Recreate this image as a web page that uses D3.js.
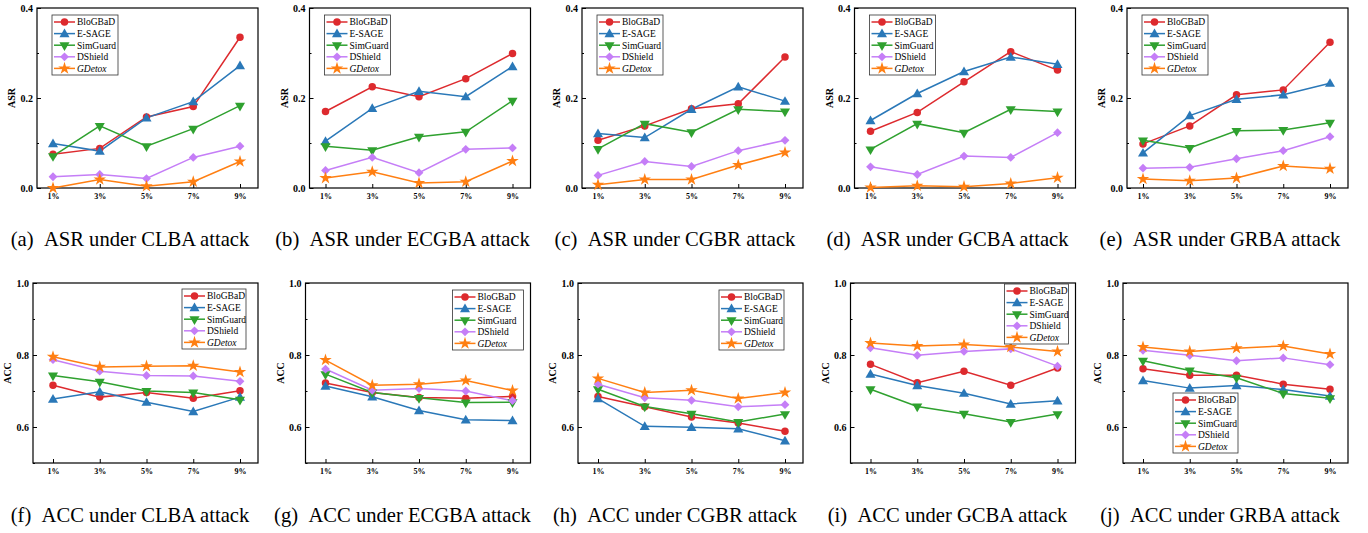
<!DOCTYPE html>
<html>
<head>
<meta charset="utf-8">
<script src="https://cdn.jsdelivr.net/npm/d3@7"></script>
<style>
  body { margin: 0; background: #fff; }
  .tick text { font-family: "Liberation Serif", "Times New Roman", serif; font-weight: bold; fill: #000; }
  .tick line { stroke: #000; stroke-width: 1; }
</style>
</head>
<body>
<div id="fig"></div>
<script>

var categories = ["1%", "3%", "5%", "7%", "9%"];
var methods = ["BloGBaD", "E-SAGE", "SimGuard", "DShield", "GDetox"];
var colors = ["#dd2a2e", "#2a78b8", "#2fa12f", "#c57ef7", "#ff7f12"];

var asrTicks = [0.0, 0.2, 0.4];
var asrMinor = [0.1, 0.3];
var accTicks = [0.6, 0.8, 1.0];
var accMinor = [0.5, 0.7, 0.9];

// rows follow methods order
var asrCLBA = [
  [0.075, 0.088, 0.158, 0.181, 0.335],
  [0.099, 0.082, 0.156, 0.192, 0.272],
  [0.071, 0.138, 0.093, 0.132, 0.183],
  [0.025, 0.030, 0.021, 0.068, 0.093],
  [0.000, 0.019, 0.004, 0.014, 0.059]
];
var asrECGBA = [
  [0.170, 0.225, 0.203, 0.243, 0.299],
  [0.104, 0.177, 0.215, 0.203, 0.270],
  [0.093, 0.084, 0.114, 0.125, 0.194],
  [0.039, 0.068, 0.034, 0.086, 0.089],
  [0.022, 0.036, 0.011, 0.014, 0.060]
];
var asrCGBR = [
  [0.106, 0.138, 0.176, 0.187, 0.291],
  [0.121, 0.112, 0.175, 0.225, 0.193],
  [0.087, 0.143, 0.124, 0.175, 0.170],
  [0.028, 0.059, 0.048, 0.083, 0.106],
  [0.007, 0.019, 0.019, 0.051, 0.079]
];
var asrGCBA = [
  [0.126, 0.168, 0.236, 0.303, 0.262],
  [0.150, 0.210, 0.259, 0.291, 0.275],
  [0.086, 0.143, 0.123, 0.175, 0.170],
  [0.047, 0.030, 0.071, 0.068, 0.123],
  [0.001, 0.005, 0.003, 0.010, 0.023]
];
var asrGRBA = [
  [0.098, 0.138, 0.207, 0.218, 0.324],
  [0.078, 0.161, 0.197, 0.207, 0.233],
  [0.106, 0.089, 0.127, 0.129, 0.145],
  [0.044, 0.046, 0.065, 0.083, 0.114],
  [0.020, 0.016, 0.022, 0.049, 0.043]
];
var accCLBA = [
  [0.716, 0.683, 0.696, 0.680, 0.701],
  [0.678, 0.698, 0.669, 0.643, 0.683],
  [0.743, 0.726, 0.700, 0.696, 0.676],
  [0.787, 0.755, 0.743, 0.742, 0.727],
  [0.795, 0.767, 0.769, 0.770, 0.753]
];
var accECGBA = [
  [0.722, 0.696, 0.682, 0.680, 0.685],
  [0.714, 0.684, 0.646, 0.620, 0.618],
  [0.747, 0.696, 0.681, 0.668, 0.669],
  [0.761, 0.702, 0.707, 0.700, 0.673],
  [0.786, 0.716, 0.719, 0.729, 0.701]
];
var accCGBR = [
  [0.685, 0.656, 0.628, 0.611, 0.588],
  [0.679, 0.602, 0.599, 0.595, 0.562],
  [0.705, 0.657, 0.637, 0.614, 0.636],
  [0.719, 0.681, 0.674, 0.656, 0.662],
  [0.735, 0.696, 0.702, 0.679, 0.696]
];
var accGCBA = [
  [0.774, 0.723, 0.755, 0.716, 0.764],
  [0.747, 0.715, 0.694, 0.664, 0.673],
  [0.705, 0.657, 0.637, 0.614, 0.636],
  [0.820, 0.799, 0.810, 0.817, 0.769],
  [0.833, 0.825, 0.829, 0.822, 0.810]
];
var accGRBA = [
  [0.762, 0.744, 0.744, 0.719, 0.705],
  [0.729, 0.708, 0.715, 0.704, 0.686],
  [0.784, 0.757, 0.737, 0.693, 0.680],
  [0.813, 0.799, 0.784, 0.792, 0.773],
  [0.822, 0.810, 0.819, 0.825, 0.803]
];

var captions = [
  "(a)\u2002ASR under CLBA attack", "(b)\u2002ASR under ECGBA attack",
  "(c)\u2002ASR under CGBR attack", "(d)\u2002ASR under GCBA attack",
  "(e)\u2002ASR under GRBA attack",
  "(f)\u2002ACC under CLBA attack", "(g)\u2002ACC under ECGBA attack",
  "(h)\u2002ACC under CGBR attack", "(i)\u2002ACC under GCBA attack",
  "(j)\u2002ACC under GRBA attack"
];

var panelData = [asrCLBA, asrECGBA, asrCGBR, asrGCBA, asrGRBA,
                 accCLBA, accECGBA, accCGBR, accGCBA, accGRBA];

// legend box per panel: left, top, width (panel-local px)
var legendBoxes = [
  [52, 15, 66], [52, 15, 66], [52, 15, 66], [52, 15, 66], [52, 15, 66],
  [182, 289, 64], [180, 290, 71], [174, 290, 65], [187, 284, 64], [83, 393, 65]
];

var svgWidth = 1368;
var svgHeight = 533;
var panelStep = 272.5;

var svg = d3.select("#fig")
  .append("svg")
  .attr("width", svgWidth)
  .attr("height", svgHeight);

var serif = "'Liberation Serif', 'Times New Roman', serif";

function markerPath(k) {
  if (k === 0) return d3.symbol(d3.symbolCircle, 44)();
  if (k === 1 || k === 2) return d3.symbol(d3.symbolTriangle, 44)();
  if (k === 3) return "M0,-4.4L4.4,0L0,4.4L-4.4,0Z";
  return d3.symbol(d3.symbolStar, 48)();
}

function drawMarker(sel, k, cx, cy) {
  sel.append("path")
    .attr("d", markerPath(k))
    .attr("transform", `translate(${cx},${cy})` + (k === 2 ? " rotate(180)" : k === 1 ? " translate(0,0.8)" : ""))
    .attr("fill", colors[k]);
}

panelData.forEach(function(data, i) {
  var row = i < 5 ? 0 : 1;
  var col = i % 5;
  var ox = col * panelStep;

  var left = row === 0 ? 37 : 33;
  var right = 258;
  var top = row === 0 ? 8 : 283;
  var bottom = row === 0 ? 188 : 463;

  var g = svg.append("g").attr("transform", `translate(${ox},0)`);

  var x = d3.scaleLinear().domain([0, 4]).range([53, 240]);
  var y = d3.scaleLinear()
    .domain(row === 0 ? [0, 0.4] : [0.5, 1.0])
    .range([bottom, top]);

  // y axis, major + minor ticks pointing inward
  var yAxis = g.append("g")
    .attr("transform", `translate(${left},0)`)
    .call(d3.axisLeft(y)
      .tickValues(row === 0 ? asrTicks : accTicks)
      .tickFormat(d3.format(".1f"))
      .tickSizeInner(-4).tickSizeOuter(0).tickPadding(4));
  yAxis.select(".domain").remove();
  yAxis.selectAll("text").style("font-size", "10px");

  var yMinor = g.append("g")
    .attr("transform", `translate(${left},0)`)
    .call(d3.axisLeft(y)
      .tickValues(row === 0 ? asrMinor : accMinor)
      .tickFormat("")
      .tickSizeInner(-2).tickSizeOuter(0));
  yMinor.select(".domain").remove();

  var xAxis = g.append("g")
    .attr("transform", `translate(0,${bottom})`)
    .call(d3.axisBottom(x)
      .tickValues([0, 1, 2, 3, 4])
      .tickFormat(d => categories[d])
      .tickSizeInner(-4).tickSizeOuter(0).tickPadding(5));
  xAxis.select(".domain").remove();
  xAxis.selectAll("text").style("font-size", "8px");

  // frame
  g.append("rect")
    .attr("x", left).attr("y", top)
    .attr("width", right - left).attr("height", bottom - top)
    .attr("fill", "none")
    .attr("stroke", "#000")
    .attr("stroke-width", 1.2);

  g.append("text")
    .attr("transform", `translate(${left - 22},${(top + bottom) / 2}) rotate(-90)`)
    .attr("text-anchor", "middle")
    .style("font-family", serif)
    .style("font-weight", "bold")
    .style("font-size", "10px")
    .text(row === 0 ? "ASR" : "ACC");

  var line = d3.line()
    .x((d, j) => x(j))
    .y(d => y(d));

  data.forEach(function(series, k) {
    g.append("path")
      .datum(series)
      .attr("d", line)
      .attr("fill", "none")
      .attr("stroke", colors[k])
      .attr("stroke-width", 1.5);
  });
  data.forEach(function(series, k) {
    series.forEach(function(v, j) {
      drawMarker(g, k, x(j), y(v));
    });
  });

  // legend
  var lb = legendBoxes[i];
  var rowH = 11.6;
  var legend = g.append("g");
  legend.append("rect")
    .attr("x", lb[0]).attr("y", lb[1])
    .attr("width", lb[2]).attr("height", rowH * 5 + 2)
    .attr("fill", "#fff")
    .attr("stroke", "#333")
    .attr("stroke-width", 0.8);
  methods.forEach(function(m, k) {
    var ly = lb[1] + 7 + k * rowH;
    legend.append("line")
      .attr("x1", lb[0] + 2).attr("x2", lb[0] + 23)
      .attr("y1", ly).attr("y2", ly)
      .attr("stroke", colors[k])
      .attr("stroke-width", 1.5);
    drawMarker(legend, k, lb[0] + 12.5, ly);
    legend.append("text")
      .attr("x", lb[0] + 25)
      .attr("y", ly + 3.3)
      .style("font-family", serif)
      .style("font-size", "9.5px")
      .style("font-style", k === 4 ? "italic" : "normal")
      .text(m);
  });

  svg.append("text")
    .attr("x", ox + 130)
    .attr("y", row === 0 ? 246 : 522)
    .attr("text-anchor", "middle")
    .style("font-family", serif)
    .style("font-size", "20.6px")
    .text(captions[i]);
});

</script>
</body>
</html>
